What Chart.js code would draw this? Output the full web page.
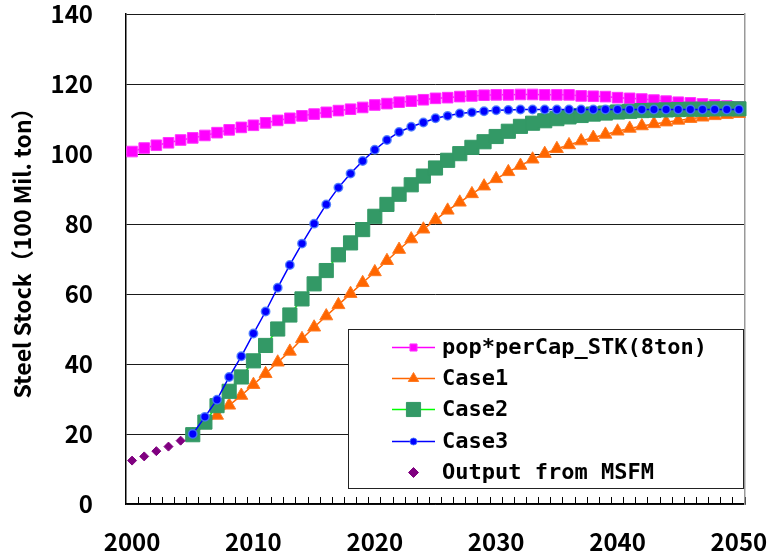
<!DOCTYPE html>
<html>
<head>
<meta charset="utf-8">
<script src="https://cdn.jsdelivr.net/npm/chart.js@4/dist/chart.umd.min.js"></script>
<style>
  html, body { margin: 0; padding: 0; background: #ffffff; }
  canvas { display: block; }
</style>
</head>
<body>
<canvas id="stockChart" width="769" height="554"></canvas>
<script>
// Categories: one per year, 2000-2050
const years = [
  2000, 2001, 2002, 2003, 2004, 2005, 2006, 2007, 2008, 2009,
  2010, 2011, 2012, 2013, 2014, 2015, 2016, 2017, 2018, 2019,
  2020, 2021, 2022, 2023, 2024, 2025, 2026, 2027, 2028, 2029,
  2030, 2031, 2032, 2033, 2034, 2035, 2036, 2037, 2038, 2039,
  2040, 2041, 2042, 2043, 2044, 2045, 2046, 2047, 2048, 2049,
  2050
];
const xTickLabels = ['2000', '2010', '2020', '2030', '2040', '2050'];
const yTicks = [0, 20, 40, 60, 80, 100, 120, 140];

// Population x per-capita stock (8 t), 2000-2050
const popPerCapStk = [
  100.7, 101.7, 102.5, 103.2, 104.0, 104.6, 105.3, 106.1, 106.9, 107.6,
  108.2, 108.9, 109.6, 110.2, 110.9, 111.4, 111.9, 112.4, 112.8, 113.3,
  114.0, 114.4, 114.8, 115.1, 115.5, 115.9, 116.1, 116.4, 116.6, 116.8,
  116.9, 116.9, 117.0, 117.0, 116.9, 116.9, 116.9, 116.6, 116.5, 116.4,
  116.1, 115.9, 115.7, 115.4, 115.1, 114.8, 114.6, 114.3, 114.0, 113.7,
  113.4
];

// MSFM model output, 2000-2004
const msfmYears = [2000, 2001, 2002, 2003, 2004];
const msfmOutput = [12.4, 13.6, 15.1, 16.4, 18.1];

// Scenario projections, 2005-2050
const caseYears = [
  2005, 2006, 2007, 2008, 2009, 2010, 2011, 2012, 2013, 2014,
  2015, 2016, 2017, 2018, 2019, 2020, 2021, 2022, 2023, 2024,
  2025, 2026, 2027, 2028, 2029, 2030, 2031, 2032, 2033, 2034,
  2035, 2036, 2037, 2038, 2039, 2040, 2041, 2042, 2043, 2044,
  2045, 2046, 2047, 2048, 2049, 2050
];
const case1 = [
  19.8, 22.6, 25.3, 28.2, 31.0, 34.1, 37.2, 40.5, 43.6, 47.2,
  50.5, 53.7, 56.9, 60.1, 63.2, 66.3, 69.5, 72.7, 75.7, 78.5,
  81.2, 83.9, 86.2, 88.6, 90.8, 92.9, 94.9, 96.7, 98.5, 100.1,
  101.5, 102.6, 103.7, 104.7, 105.6, 106.5, 107.3, 108.0, 108.6, 109.1,
  109.6, 110.1, 110.5, 110.9, 111.2, 111.5
];
const case2 = [
  19.8, 23.4, 28.1, 32.2, 36.3, 40.9, 45.3, 50.0, 54.0, 58.6,
  62.9, 66.7, 71.2, 74.6, 78.4, 82.2, 85.6, 88.5, 91.2, 93.7,
  96.0, 98.2, 100.1, 101.9, 103.5, 105.0, 106.5, 107.9, 108.8, 109.5,
  110.1, 110.6, 111.0, 111.4, 111.7, 112.0, 112.2, 112.4, 112.5, 112.6,
  112.7, 112.8, 112.8, 112.9, 112.9, 112.9
];
const case3 = [
  20.0, 24.9, 29.8, 36.3, 42.2, 48.7, 55.0, 61.8, 68.3, 74.4,
  80.1, 85.6, 90.4, 94.4, 98.0, 101.2, 104.0, 106.3, 107.8, 109.0,
  110.2, 110.9, 111.6, 111.9, 112.2, 112.5, 112.6, 112.7, 112.7, 112.7,
  112.7, 112.7, 112.7, 112.7, 112.7, 112.7, 112.7, 112.7, 112.7, 112.7,
  112.7, 112.7, 112.7, 112.7, 112.7, 112.7
];

// Align a partial series onto the full year axis
function onYears(srcYears, values) {
  return years.map(y => {
    const i = srcYears.indexOf(y);
    return i < 0 ? null : values[i];
  });
}

const gothic = '"Noto Sans CJK JP", "Liberation Sans", sans-serif';
const legendFamily = '"DejaVu Sans Mono", "Liberation Mono", monospace';

// Fixed scale size with no extra edge padding, so the plot fills its frame
function fixSize(w, h) {
  return scale => {
    if (w !== null) scale.width = w;
    if (h !== null) scale.height = h;
    scale.paddingTop = 0;
    scale.paddingBottom = 0;
    scale.paddingLeft = 0;
    scale.paddingRight = 0;
  };
}

// Boxed legend drawn inside the plot area, lower right
const boxLegend = {
  id: 'boxLegend',
  afterDatasetsDraw(chart, args, opts) {
    const ctx = chart.ctx;
    ctx.save();
    ctx.fillStyle = '#ffffff';
    ctx.fillRect(opts.left, opts.top, opts.width, opts.height);
    ctx.strokeStyle = '#222222';
    ctx.lineWidth = 1;
    ctx.strokeRect(opts.left + 0.5, opts.top + 0.5, opts.width, opts.height);
    ctx.font = 'bold ' + opts.fontSize + 'px ' + legendFamily;
    ctx.textBaseline = 'middle';
    ctx.textAlign = 'left';
    chart.data.datasets.forEach((ds, i) => {
      const y = Math.round(opts.firstRow + i * opts.rowGap) + 0.5;
      if (ds.showLine !== false) {
        ctx.strokeStyle = ds.borderColor;
        ctx.lineWidth = 1.5;
        ctx.beginPath();
        ctx.moveTo(opts.lineStart, y);
        ctx.lineTo(opts.lineEnd, y);
        ctx.stroke();
      }
      ctx.fillStyle = ds.pointBackgroundColor;
      ctx.strokeStyle = ds.pointBorderColor;
      ctx.lineWidth = 1;
      Chart.helpers.drawPoint(ctx, {
        pointStyle: ds.pointStyle,
        radius: ds.legendRadius,
        borderWidth: 1,
        rotation: 0
      }, (opts.lineStart + opts.lineEnd) / 2, y);
      ctx.fillStyle = '#000000';
      ctx.fillText(ds.label, opts.textX, y + 1);
    });
    ctx.restore();
  }
};

const chart = new Chart(document.getElementById('stockChart'), {
  type: 'line',
  data: {
    labels: years,
    datasets: [
      {
        label: 'pop*perCap_STK(8ton)',
        data: popPerCapStk,
        borderColor: '#ff00ff',
        borderWidth: 1.5,
        pointStyle: 'rect',
        pointRadius: 7.5,
        pointBorderWidth: 1,
        pointBackgroundColor: '#ff00ff',
        pointBorderColor: '#ff33ff',
        legendRadius: 5,
        order: 4
      },
      {
        label: 'Case1',
        data: onYears(caseYears, case1),
        borderColor: '#ff6600',
        borderWidth: 1.5,
        pointStyle: 'triangle',
        pointRadius: 7.5,
        pointBorderWidth: 1,
        pointBackgroundColor: '#ff6600',
        pointBorderColor: '#ff7a22',
        legendRadius: 6,
        order: 3
      },
      {
        label: 'Case2',
        data: onYears(caseYears, case2),
        borderColor: '#00ff00',
        borderWidth: 1.5,
        pointStyle: 'rect',
        pointRadius: 10,
        pointBorderWidth: 1,
        pointBackgroundColor: '#339966',
        pointBorderColor: '#339966',
        legendRadius: 10,
        order: 2
      },
      {
        label: 'Case3',
        data: onYears(caseYears, case3),
        borderColor: '#0000ff',
        borderWidth: 1.5,
        pointStyle: 'circle',
        pointRadius: 4.2,
        pointBorderWidth: 1.5,
        pointBackgroundColor: '#0000ff',
        pointBorderColor: 'rgba(70,120,255,0.85)',
        legendRadius: 3.5,
        order: 0
      },
      {
        label: 'Output from MSFM',
        data: onYears(msfmYears, msfmOutput),
        showLine: false,
        borderColor: '#800080',
        pointStyle: 'rectRot',
        pointRadius: 4.5,
        pointBorderWidth: 1,
        pointBackgroundColor: '#800080',
        pointBorderColor: '#800080',
        legendRadius: 5,
        order: 1
      }
    ]
  },
  options: {
    responsive: false,
    animation: false,
    devicePixelRatio: 1,
    layout: { padding: { left: 10, top: 14, right: 24, bottom: 0 } },
    plugins: {
      legend: { display: false },
      tooltip: { enabled: false },
      boxLegend: {
        left: 348, top: 329, width: 395, height: 159,
        firstRow: 347, rowGap: 31.2,
        lineStart: 392, lineEnd: 435, textX: 442,
        fontSize: 22
      }
    },
    scales: {
      x: {
        type: 'category',
        offset: true,
        grid: {
          offset: true,
          drawOnChartArea: false,
          drawTicks: true,
          tickLength: -7,
          color: '#000000',
          lineWidth: 1
        },
        border: { color: '#000000', width: 1.5 },
        ticks: {
          autoSkip: false,
          maxRotation: 0,
          minRotation: 0,
          padding: 30,
          color: '#000000',
          font: { family: gothic, size: 24, weight: 'bold' },
          callback: (value, index) => {
            const label = String(years[index]);
            return xTickLabels.includes(label) ? label : '';
          }
        },
        afterFit: fixSize(null, 50)
      },
      y: {
        min: 0,
        max: 140,
        grid: { color: '#1a1a1a', lineWidth: 1, drawTicks: false },
        border: { color: '#000000', width: 1.5 },
        ticks: {
          padding: 33,
          color: '#000000',
          font: { family: gothic, size: 24, weight: 'bold' }
        },
        afterBuildTicks: scale => { scale.ticks = yTicks.map(v => ({ value: v })); },
        title: {
          display: true,
          text: '\u3000Steel Stock（100 Mil. ton）',
          color: '#000000',
          font: { family: gothic, size: 23, weight: 'bold', lineHeight: 1.1 },
          padding: { top: 0, bottom: 0 }
        },
        afterFit: fixSize(116, null)
      },
      yRight: {
        position: 'right',
        min: 0,
        max: 140,
        grid: { display: false, drawTicks: false },
        border: { color: '#999999', width: 1.5 },
        ticks: { display: false },
        afterFit: fixSize(0, null)
      }
    }
  },
  plugins: [boxLegend]
});
</script>
</body>
</html>
